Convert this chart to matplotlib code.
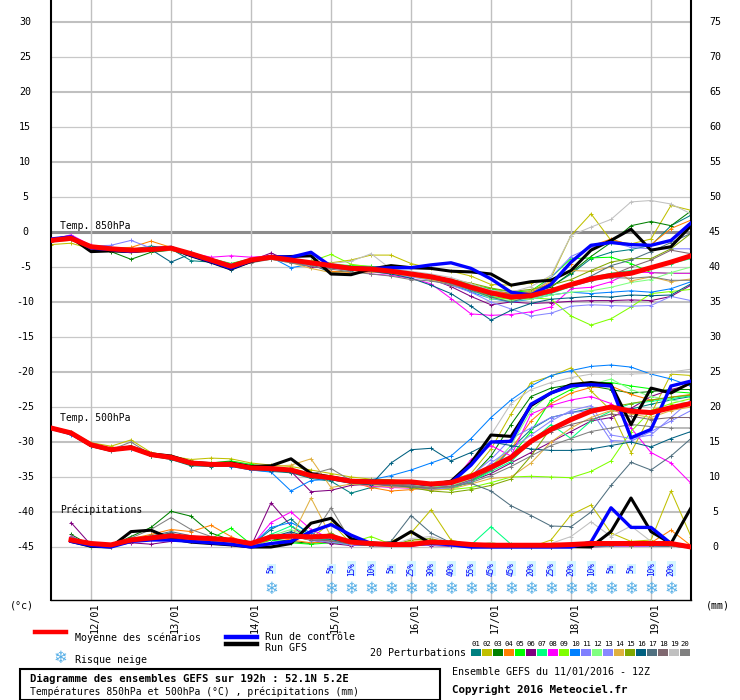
import matplotlib
matplotlib.use('Agg')
import matplotlib.pyplot as plt
from matplotlib.lines import Line2D
from matplotlib.patches import Rectangle

plt.rcParams['font.family'] = ['DejaVu Sans Mono']

# ---- data (6-hourly steps from 11/01 12Z, 33 steps) ----
day_labels = ['12/01', '13/01', '14/01', '15/01', '16/01', '17/01', '18/01', '19/01']
day_steps = [2, 6, 10, 14, 18, 22, 26, 30]

member_colors = ['#008080', '#c0c000', '#008000', '#ff8000', '#00ff00', '#800080', '#00ff80',
                 '#ff00ff', '#80ff00', '#0080ff', '#8080ff', '#80ff80', '#8888ff', '#e0b040',
                 '#80a800', '#006080', '#507080', '#806870', '#c0c0c0', '#808080']

t850_mean = [-1.2, -0.9, -2.1, -2.4, -2.6, -2.5, -2.3, -3.1, -4.0, -4.9, -4.0, -3.6, -4.0, -4.4, -4.8, -5.2, -5.3,
             -5.6, -6.0, -6.4, -7.0, -7.9, -8.7, -9.3, -9.1, -8.4, -7.5, -6.7, -6.2, -5.9, -5.1, -4.3, -3.4]
t850_ctrl = [-1.0, -0.7, -2.3, -2.5, -2.8, -2.4, -2.2, -3.3, -4.2, -5.2, -4.1, -3.5, -3.6, -2.9, -4.9, -5.1, -5.2,
             -5.1, -5.1, -4.7, -4.4, -5.2, -6.7, -8.6, -9.0, -7.5, -4.3, -1.9, -1.5, -1.8, -1.9, -1.2, 1.3]
t850_gfs = [-1.3, -0.8, -2.8, -2.7, -2.8, -2.6, -2.3, -3.4, -4.3, -5.3, -4.2, -3.6, -3.5, -3.4, -6.0, -6.1, -5.3,
            -4.8, -5.1, -5.2, -5.6, -5.7, -6.0, -7.6, -7.1, -6.9, -5.5, -2.6, -1.2, 0.4, -2.6, -2.1, 0.9]
t850_members = [
    [-1.0, -0.5, -2.0, -2.2, -2.5, -2.0, -2.4, -4.1, -4.3, -5.0, -4.2, -3.8, -4.2, -4.6, -5.8, -5.5, -5.0, -5.4, -6.0, -6.5, -7.6, -8.5, -9.0, -8.7, -8.9, -7.8, -6.0, -3.8, -2.9, -2.5, -1.9, 0.9, 2.4],
    [-1.8, -1.6, -2.4, -2.6, -2.9, -2.7, -2.5, -3.2, -3.9, -4.6, -3.9, -3.8, -4.1, -4.3, -4.4, -4.0, -3.3, -3.3, -4.5, -5.2, -5.6, -6.3, -7.5, -7.6, -7.3, -6.5, -0.5, 2.6, -1.2, -1.7, -1.0, 3.8, 3.1],
    [-1.0, -0.8, -2.2, -2.8, -3.9, -2.9, -2.6, -3.4, -4.3, -5.0, -4.1, -3.7, -4.1, -4.5, -4.9, -5.1, -5.2, -5.5, -5.9, -6.3, -6.8, -7.6, -8.2, -8.8, -8.5, -7.9, -5.8, -3.5, -1.5, 0.9, 1.5, 0.9, 3.0],
    [-1.1, -0.8, -2.0, -2.3, -2.2, -1.3, -2.2, -3.0, -3.9, -4.8, -4.0, -3.6, -3.9, -4.2, -5.6, -5.8, -5.6, -5.5, -5.9, -6.2, -6.8, -7.5, -8.4, -8.8, -8.6, -7.2, -4.5, -2.0, -1.0, -1.9, -1.8, 0.5, 1.7],
    [-1.0, -0.6, -2.0, -2.3, -2.5, -2.3, -2.1, -3.0, -3.8, -4.5, -3.8, -3.6, -3.9, -4.3, -4.6, -4.8, -4.9, -5.3, -5.7, -6.3, -6.9, -7.5, -8.1, -8.6, -8.4, -6.5, -3.8, -3.7, -3.6, -4.5, -5.8, -5.9, -5.9],
    [-1.3, -1.0, -2.2, -2.5, -2.7, -2.6, -2.4, -3.2, -4.1, -5.0, -4.1, -3.0, -4.2, -5.0, -5.2, -5.4, -5.5, -5.8, -6.2, -6.7, -7.8, -9.2, -10.4, -10.0, -10.2, -10.1, -9.9, -9.8, -9.8, -9.7, -9.8, -9.2, -7.6],
    [-1.1, -0.8, -2.1, -2.3, -2.5, -2.4, -2.3, -3.0, -3.9, -4.8, -3.9, -3.6, -4.0, -4.5, -4.8, -5.3, -5.5, -5.8, -6.3, -6.8, -7.4, -8.3, -9.2, -9.6, -9.4, -8.8, -7.8, -6.5, -5.9, -5.5, -5.2, -4.5, -3.8],
    [-1.1, -0.4, -1.9, -2.2, -2.5, -2.4, -2.3, -3.0, -3.6, -3.4, -3.6, -3.4, -3.9, -4.3, -4.7, -5.0, -6.0, -6.2, -6.6, -7.4, -9.5, -11.7, -11.9, -11.8, -11.4, -10.7, -8.1, -7.9, -7.1, -5.7, -5.8, -5.9, -5.9],
    [-1.0, -0.7, -2.0, -2.2, -2.4, -2.3, -2.2, -2.9, -3.9, -4.7, -3.9, -3.5, -3.8, -4.2, -3.2, -4.6, -5.0, -5.3, -5.8, -6.4, -7.1, -8.2, -9.3, -9.6, -9.4, -9.6, -12.0, -13.3, -12.4, -10.7, -8.8, -8.5, -8.2],
    [-1.2, -0.9, -2.1, -2.2, -2.4, -2.5, -2.4, -2.9, -3.8, -4.8, -4.0, -3.6, -5.1, -4.6, -5.0, -5.2, -5.3, -5.7, -6.1, -6.7, -7.4, -8.6, -9.5, -10.0, -9.6, -9.0, -8.6, -8.8, -8.6, -8.4, -8.6, -8.1, -7.1],
    [-1.2, -0.6, -2.0, -1.9, -1.2, -2.3, -2.2, -3.0, -3.8, -4.6, -4.0, -3.7, -4.0, -4.3, -4.6, -5.0, -5.1, -5.4, -5.8, -6.3, -6.8, -7.7, -8.5, -9.2, -9.0, -6.5, -3.5, -2.2, -1.4, -2.2, -2.4, -2.4, -2.4],
    [-1.3, -1.0, -2.3, -2.6, -2.8, -2.7, -2.5, -3.3, -4.2, -5.1, -4.2, -3.8, -4.2, -4.6, -5.0, -5.4, -5.5, -5.8, -6.2, -6.5, -7.2, -8.3, -9.5, -9.8, -9.6, -9.0, -8.6, -8.4, -7.9, -7.2, -6.8, -5.8, -5.0],
    [-1.2, -0.8, -2.1, -2.4, -2.6, -2.6, -2.5, -3.3, -4.4, -5.3, -4.3, -3.8, -4.2, -4.6, -5.0, -5.4, -5.7, -6.0, -6.4, -6.9, -7.6, -8.6, -10.0, -11.0, -12.0, -11.6, -10.6, -10.4, -10.5, -10.6, -10.5, -9.2, -9.8],
    [-1.4, -1.2, -2.3, -2.5, -2.8, -2.7, -2.6, -3.3, -4.2, -5.0, -4.3, -3.9, -4.4, -5.2, -5.8, -5.9, -5.7, -5.9, -6.3, -6.8, -7.5, -8.2, -8.8, -9.0, -8.4, -7.0, -5.5, -5.6, -5.0, -7.0, -6.4, -7.1, -6.7],
    [-1.1, -0.8, -2.2, -2.6, -2.8, -2.6, -2.3, -3.1, -4.1, -4.9, -4.1, -3.7, -4.0, -4.4, -4.9, -5.2, -5.3, -5.5, -5.8, -6.2, -6.8, -7.3, -8.0, -8.5, -8.2, -7.6, -6.8, -5.5, -4.3, -3.8, -3.8, -2.4, -0.2],
    [-1.1, -0.9, -2.1, -2.4, -2.6, -2.5, -4.3, -3.1, -4.2, -5.4, -4.1, -3.7, -4.2, -4.5, -4.9, -5.3, -5.6, -6.0, -6.6, -7.6, -8.8, -10.6, -12.6, -11.2, -10.2, -9.6, -9.4, -9.2, -9.3, -9.0, -9.1, -9.0, -7.4],
    [-1.2, -0.9, -2.2, -2.4, -2.6, -2.5, -2.3, -3.2, -4.1, -5.0, -4.1, -3.7, -4.1, -4.6, -5.0, -5.3, -5.4, -5.6, -6.1, -6.6, -7.3, -8.3, -9.3, -10.0, -9.2, -8.3, -7.5, -6.3, -4.8, -4.0, -2.8, -1.5, -0.2],
    [-1.3, -1.0, -2.3, -2.5, -2.7, -2.6, -2.4, -3.2, -4.2, -5.1, -4.2, -3.8, -4.3, -4.7, -5.1, -5.4, -5.5, -5.7, -6.1, -6.4, -7.1, -7.9, -8.8, -9.3, -9.0, -8.5, -7.8, -7.0, -6.2, -5.0, -4.0, -2.6, -3.1],
    [-1.2, -0.9, -2.1, -2.3, -2.5, -2.3, -2.2, -3.0, -3.9, -4.8, -4.0, -3.6, -3.9, -4.3, -4.5, -4.2, -3.1, -5.3, -5.6, -6.0, -6.5, -7.4, -8.3, -8.6, -7.8, -6.2, -0.5, 0.7, 1.8, 4.3, 4.5, 4.0, 2.6],
    [-1.3, -1.0, -2.2, -2.5, -2.7, -2.6, -2.3, -3.2, -4.3, -5.2, -4.4, -3.9, -4.4, -4.9, -5.3, -5.7, -6.0, -6.3, -6.8, -7.0, -7.5, -8.1, -8.6, -8.9, -8.7, -8.2, -7.4, -6.9, -6.5, -6.6, -6.4, -6.9, -6.9],
]

t500_mean = [-28.0, -28.7, -30.4, -31.1, -30.8, -31.8, -32.2, -33.0, -33.2, -33.2, -33.7, -33.8, -34.0, -34.8, -35.1, -35.6, -35.7,
             -35.7, -35.7, -36.0, -35.8, -34.9, -33.6, -32.2, -29.9, -28.2, -26.8, -25.6, -25.0, -25.6, -25.8, -25.1, -24.5]
t500_ctrl = [-28.0, -28.7, -30.4, -31.1, -30.8, -31.8, -32.2, -33.0, -33.2, -33.2, -33.7, -33.8, -34.0, -34.8, -35.1, -35.6, -35.7,
             -35.7, -35.8, -36.1, -35.8, -33.3, -30.0, -29.9, -24.6, -23.0, -22.0, -21.8, -22.0, -29.4, -28.2, -22.0, -21.3]
t500_gfs = [-28.0, -28.8, -30.5, -31.2, -30.7, -31.7, -32.0, -32.9, -33.1, -33.0, -33.5, -33.4, -32.4, -34.5, -35.0, -35.5, -35.6,
            -35.6, -35.8, -36.1, -35.6, -33.0, -29.0, -29.2, -24.8, -23.0, -21.8, -21.5, -21.8, -27.5, -22.3, -23.0, -21.5]
t500_members = [
    [-28.0, -28.8, -30.5, -31.3, -30.9, -32.0, -32.5, -33.4, -33.5, -33.4, -34.0, -34.2, -34.4, -35.2, -35.6, -37.3, -36.5, -36.2, -36.0, -36.3, -36.4, -35.5, -34.0, -31.0, -28.2, -26.5, -25.8, -25.2, -25.0, -25.3, -24.6, -24.0, -23.5],
    [-27.8, -28.5, -30.1, -30.6, -29.7, -31.5, -32.0, -32.5, -32.3, -32.4, -33.0, -33.3, -33.5, -34.0, -34.5, -35.0, -35.3, -35.4, -35.6, -35.9, -35.5, -34.5, -31.0, -26.0, -21.5, -20.6, -19.4, -22.7, -25.5, -31.5, -26.0, -20.3, -20.5],
    [-28.1, -28.8, -30.5, -31.2, -31.0, -32.0, -32.4, -33.3, -33.4, -33.3, -33.8, -34.0, -34.3, -35.0, -35.4, -35.8, -36.0, -35.9, -36.0, -36.3, -36.0, -35.0, -32.0, -27.5, -23.5, -22.3, -21.8, -22.0, -22.5, -23.0, -22.8, -22.5, -22.5],
    [-28.0, -28.7, -30.3, -31.0, -30.7, -31.6, -32.0, -32.8, -33.0, -33.1, -33.6, -33.9, -34.2, -34.6, -35.0, -35.7, -36.5, -37.0, -36.8, -36.5, -36.0, -35.0, -33.5, -31.0, -27.0, -24.5, -23.0, -22.2, -22.0, -23.2, -24.0, -23.6, -23.2],
    [-28.0, -28.6, -30.3, -31.0, -30.6, -31.7, -32.1, -32.9, -33.0, -32.7, -33.2, -33.6, -34.0, -34.8, -35.2, -35.5, -35.8, -36.2, -36.5, -36.8, -36.7, -35.6, -34.0, -32.0, -28.5, -24.0, -22.5, -21.5, -21.5, -22.0, -22.4, -22.8, -23.0],
    [-28.0, -28.7, -30.4, -31.2, -30.9, -31.8, -32.3, -33.1, -33.3, -33.3, -33.8, -34.0, -34.2, -37.1, -36.9, -36.2, -36.0, -36.3, -36.5, -36.8, -36.6, -35.6, -34.5, -33.0, -31.5, -30.0, -28.5, -27.0, -26.5, -25.2, -23.5, -22.5, -21.8],
    [-28.0, -28.7, -30.4, -31.1, -30.9, -31.9, -32.3, -33.1, -33.3, -33.3, -33.8, -33.9, -34.2, -34.9, -35.3, -35.8, -35.9, -36.0, -36.3, -36.6, -36.6, -35.7, -34.2, -32.8, -30.0, -27.5, -29.5, -27.0, -25.6, -24.5, -24.2, -23.8, -23.4],
    [-28.0, -28.7, -30.4, -31.1, -30.9, -31.9, -32.3, -33.0, -33.2, -33.1, -33.6, -33.7, -33.9, -34.6, -35.1, -35.9, -36.3, -36.5, -36.6, -36.8, -36.0, -32.5, -30.5, -32.0, -26.0, -24.8, -24.0, -23.5, -24.5, -28.0, -31.5, -33.0, -35.9],
    [-28.0, -28.7, -30.4, -31.1, -30.8, -31.8, -32.2, -33.0, -33.1, -33.0, -33.5, -33.6, -33.8, -34.5, -34.9, -35.4, -35.5, -35.7, -36.2, -36.7, -36.8, -36.5, -35.8, -35.0, -34.9, -35.0, -35.1, -34.2, -32.7, -28.5, -25.5, -24.5, -23.8],
    [-28.2, -29.0, -30.6, -31.2, -31.0, -31.9, -32.3, -33.1, -33.3, -33.5, -34.0, -34.3, -37.0, -35.5, -35.3, -35.6, -35.4, -34.8, -34.0, -33.0, -32.0, -29.5, -26.5, -24.0, -22.0, -20.5, -19.8, -19.2, -19.0, -19.3, -20.3, -21.0, -22.0],
    [-28.0, -28.7, -30.4, -31.1, -30.8, -31.9, -32.3, -33.1, -33.3, -33.3, -33.8, -34.0, -34.2, -34.9, -35.3, -35.8, -36.0, -36.1, -36.2, -36.5, -36.0, -34.8, -32.5, -29.5, -28.0, -26.5, -25.8, -25.5, -29.8, -29.9, -28.5, -27.0, -25.5],
    [-28.0, -28.7, -30.4, -31.1, -30.8, -31.8, -32.2, -33.0, -33.3, -33.2, -33.7, -33.8, -34.1, -34.8, -35.2, -35.7, -35.8, -36.0, -36.1, -36.4, -36.3, -35.2, -33.5, -30.5, -25.5, -23.0, -22.0, -21.8, -21.0, -22.5, -23.5, -24.0, -24.5],
    [-28.0, -28.7, -30.4, -31.1, -30.9, -31.9, -32.3, -33.1, -33.3, -33.3, -33.8, -33.9, -34.2, -34.9, -35.3, -35.8, -36.0, -36.2, -36.6, -36.8, -36.5, -35.5, -33.0, -31.0, -29.0, -27.0, -25.5, -24.8, -29.0, -29.5, -29.0, -26.5, -24.0],
    [-28.0, -28.6, -30.3, -31.0, -30.7, -31.7, -32.1, -32.9, -33.1, -33.3, -33.6, -33.5, -33.3, -32.4, -36.5, -36.0, -36.2, -36.4, -36.5, -36.9, -36.7, -36.0, -35.2, -35.0, -33.0, -30.0, -28.0, -26.5, -25.5, -26.0, -26.5, -25.5, -25.0],
    [-28.0, -28.7, -30.4, -31.1, -30.9, -31.9, -32.3, -33.1, -33.3, -33.3, -33.7, -33.9, -34.1, -34.8, -35.2, -35.7, -35.9, -36.1, -36.5, -37.0, -37.2, -36.8, -36.2, -35.3, -32.0, -28.0, -26.5, -25.5, -25.0, -24.5, -24.0, -23.6, -23.3],
    [-28.0, -28.7, -30.4, -31.1, -30.9, -31.9, -32.3, -33.1, -33.4, -33.4, -33.9, -34.1, -34.3, -35.0, -35.4, -35.9, -36.1, -33.0, -31.1, -30.9, -32.7, -31.5, -30.0, -30.5, -31.0, -31.2, -31.2, -31.0, -30.5, -30.0, -30.7, -29.5, -28.5],
    [-28.0, -28.7, -30.4, -31.1, -30.9, -31.9, -32.3, -33.1, -33.3, -33.3, -33.8, -34.0, -34.2, -34.9, -35.3, -35.8, -36.0, -36.2, -36.4, -36.6, -36.3, -35.9, -37.0, -39.1, -40.5, -42.0, -42.1, -40.0, -36.2, -32.9, -34.0, -32.0, -29.5],
    [-28.0, -28.7, -30.4, -31.1, -30.9, -31.9, -32.3, -33.1, -33.3, -33.3, -33.8, -33.9, -34.1, -34.8, -35.2, -35.7, -35.9, -36.1, -36.3, -36.6, -36.4, -35.4, -34.0, -32.5, -30.0, -28.5, -27.5, -26.8, -26.0, -26.3, -26.8, -26.5, -26.5],
    [-28.0, -28.6, -30.3, -31.0, -30.8, -31.7, -32.1, -32.9, -33.1, -33.1, -33.6, -33.7, -33.9, -34.6, -35.0, -35.5, -35.6, -35.8, -36.0, -36.3, -35.5, -33.0, -29.0, -24.5, -22.5, -21.5, -20.8, -20.3, -20.3, -20.3, -20.2, -20.0, -19.6],
    [-28.0, -28.7, -30.4, -31.1, -30.0, -31.8, -32.2, -33.0, -33.2, -33.2, -33.7, -33.8, -34.0, -34.6, -33.8, -35.5, -35.7, -35.9, -36.2, -36.5, -36.4, -35.8, -34.8, -33.5, -32.0, -30.5, -29.5, -28.5, -28.0, -27.5, -27.8, -28.0, -28.0],
]

# precipitation (mm per 6h), steps 1..32
precip_mean = [1.0, 0.5, 0.3, 1.0, 1.3, 1.6, 1.35, 1.2, 1.0, 0.5, 1.45, 1.55, 1.45, 1.55, 0.7, 0.5,
               0.35, 0.35, 0.7, 0.6, 0.35, 0.25, 0.25, 0.25, 0.25, 0.35, 0.5, 0.5, 0.5, 0.5, 0.5, 0.0]
precip_ctrl = [0.8, 0.2, 0.0, 0.8, 1.0, 1.0, 0.8, 0.6, 0.4, 0.0, 0.5, 0.8, 2.2, 3.2, 1.7, 0.5,
               0.3, 0.3, 0.6, 0.3, 0.0, 0.0, 0.0, 0.0, 0.0, 0.0, 0.7, 5.6, 2.8, 2.8, 0.5, 0.0]
precip_gfs = [0.8, 0.1, 0.0, 2.2, 2.4, 1.2, 0.7, 0.5, 0.3, 0.0, 0.0, 0.5, 3.4, 4.1, 1.2, 0.5,
              0.5, 2.2, 0.5, 0.7, 0.05, 0.05, 0.05, 0.05, 0.05, 0.05, 0.0, 2.2, 7.0, 2.2, 0.5, 5.6]
precip_members = [
    [1.5, 0.2, 0.1, 1.0, 1.5, 2.0, 1.0, 0.8, 0.5, 0.2, 2.5, 4.0, 1.5, 0.8, 0.3, 0.2, 0.2, 0.3, 0.5, 0.2, 0.1, 0.3, 0.1, 0.0, 0.1, 0.2, 0.3, 0.2, 0.5, 0.3, 0.2, 0.0],
    [1.2, 0.1, 0.0, 0.8, 1.2, 1.5, 1.0, 0.6, 0.4, 0.0, 1.0, 1.5, 1.2, 3.5, 0.5, 0.4, 0.8, 2.0, 5.3, 1.0, 0.3, 0.2, 0.1, 0.0, 1.0, 4.6, 6.0, 2.0, 0.8, 1.0, 8.0, 1.5],
    [1.8, 0.2, 0.1, 1.5, 2.8, 5.1, 4.4, 2.0, 1.0, 0.3, 1.2, 0.8, 0.5, 1.0, 0.5, 0.3, 0.2, 0.4, 0.6, 0.3, 0.1, 0.0, 0.0, 0.0, 0.0, 0.1, 0.2, 0.3, 0.4, 0.3, 0.2, 0.0],
    [1.3, 0.1, 0.0, 1.2, 1.8, 2.5, 2.2, 3.1, 1.5, 0.2, 1.5, 1.0, 0.6, 0.8, 0.4, 0.2, 0.1, 0.8, 0.5, 0.2, 0.0, 0.1, 0.0, 0.0, 0.0, 0.0, 0.2, 0.5, 0.4, 0.6, 2.4, 0.2],
    [1.0, 0.0, 0.0, 0.8, 1.2, 1.8, 1.5, 1.2, 2.7, 0.4, 1.0, 0.6, 0.4, 0.6, 0.3, 0.2, 0.5, 0.3, 0.6, 0.4, 0.2, 0.3, 0.0, 0.0, 0.0, 0.0, 0.1, 0.3, 0.2, 0.2, 0.1, 0.0],
    [3.5, 0.3, 0.1, 0.6, 0.4, 0.8, 0.9, 0.5, 0.3, 0.1, 6.3, 3.0, 1.0, 0.5, 0.2, 0.3, 0.1, 0.3, 0.2, 0.1, 0.0, 0.0, 0.0, 0.0, 0.0, 0.0, 0.0, 0.1, 0.2, 0.1, 0.1, 0.0],
    [1.4, 0.2, 0.1, 1.0, 1.6, 1.4, 1.2, 1.0, 0.8, 0.2, 1.8, 3.0, 1.5, 0.8, 0.3, 0.8, 0.4, 0.5, 0.8, 0.5, 0.3, 2.9, 0.4, 0.1, 0.0, 0.1, 0.2, 0.2, 0.3, 0.2, 0.2, 0.0],
    [1.6, 0.1, 0.0, 0.7, 1.0, 1.2, 1.4, 0.9, 0.6, 0.1, 3.5, 5.0, 2.5, 1.2, 0.3, 0.2, 0.2, 0.1, 0.4, 0.2, 0.1, 0.0, 0.0, 0.0, 0.0, 0.0, 0.1, 0.2, 0.1, 0.1, 0.1, 0.0],
    [1.1, 0.1, 0.0, 0.8, 1.1, 1.3, 1.1, 0.8, 0.6, 0.1, 1.2, 1.8, 1.0, 1.5, 0.6, 1.5, 0.4, 0.3, 0.7, 0.4, 0.2, 0.6, 0.2, 0.0, 0.0, 0.0, 0.1, 0.2, 0.3, 0.2, 0.1, 0.0],
    [1.2, 0.2, 0.1, 0.9, 1.2, 1.5, 1.1, 0.8, 0.6, 0.2, 2.8, 3.5, 2.0, 1.0, 0.5, 0.3, 0.2, 0.2, 0.4, 0.2, 0.1, 0.1, 0.0, 0.0, 0.0, 0.0, 0.1, 0.3, 0.2, 0.3, 0.4, 0.0],
    [1.3, 0.1, 0.0, 0.9, 1.3, 1.6, 1.2, 0.9, 0.5, 0.1, 1.4, 2.0, 1.1, 0.9, 0.4, 0.2, 0.3, 0.2, 0.5, 0.3, 0.1, 0.0, 0.0, 0.0, 0.0, 0.0, 0.2, 0.4, 0.3, 0.2, 0.1, 0.0],
    [1.2, 0.1, 0.0, 1.0, 1.4, 1.8, 1.4, 1.0, 0.7, 0.2, 1.6, 2.5, 1.3, 1.0, 0.4, 0.3, 0.2, 0.3, 0.5, 0.3, 0.1, 0.1, 0.0, 0.0, 0.0, 0.0, 0.1, 0.2, 0.2, 0.2, 0.1, 0.0],
    [1.5, 0.2, 0.0, 0.8, 1.0, 1.4, 1.0, 0.7, 0.4, 0.1, 1.3, 1.7, 0.9, 0.7, 0.3, 0.2, 0.1, 0.2, 0.3, 0.2, 0.0, 0.0, 0.0, 0.0, 0.0, 0.0, 0.1, 0.1, 0.2, 0.1, 0.1, 0.0],
    [1.4, 0.1, 0.0, 1.1, 1.5, 1.7, 1.3, 1.0, 0.6, 0.3, 1.5, 1.2, 7.0, 1.5, 0.6, 0.3, 0.5, 0.8, 1.0, 0.4, 0.2, 0.1, 0.0, 0.0, 0.0, 0.2, 0.3, 0.5, 0.4, 0.3, 0.3, 0.0],
    [1.1, 0.1, 0.0, 0.9, 1.2, 1.5, 1.2, 0.9, 0.6, 0.2, 1.2, 1.5, 1.0, 2.0, 0.5, 0.3, 0.2, 1.0, 1.2, 0.5, 0.2, 0.1, 0.0, 0.0, 0.0, 0.1, 0.2, 0.3, 0.2, 0.3, 0.2, 0.0],
    [1.3, 0.1, 0.0, 1.0, 1.4, 1.6, 1.3, 1.0, 0.6, 0.2, 1.4, 2.2, 1.2, 1.1, 0.4, 0.2, 0.2, 0.4, 0.6, 0.3, 0.1, 0.0, 0.0, 0.0, 0.0, 0.0, 0.1, 0.2, 0.3, 0.2, 0.1, 0.0],
    [1.4, 0.2, 0.1, 1.1, 1.6, 2.2, 1.6, 1.2, 0.7, 0.3, 1.5, 1.8, 1.4, 1.8, 0.6, 0.4, 0.8, 4.5, 2.0, 0.6, 0.3, 0.2, 0.1, 0.0, 0.0, 0.1, 0.2, 0.4, 0.5, 0.3, 0.2, 0.0],
    [1.2, 0.1, 0.0, 0.9, 1.3, 1.5, 1.2, 0.9, 0.5, 0.2, 1.3, 1.6, 1.0, 0.9, 0.4, 0.2, 0.2, 0.3, 0.5, 0.3, 0.1, 0.0, 0.0, 0.0, 0.0, 0.0, 0.1, 0.2, 0.2, 0.2, 0.1, 0.0],
    [1.3, 0.2, 0.0, 1.0, 1.4, 1.6, 1.3, 1.0, 0.6, 0.2, 1.2, 1.5, 1.1, 1.4, 0.5, 0.3, 0.3, 1.2, 1.5, 0.6, 0.3, 0.6, 0.2, 0.0, 0.5, 1.5, 3.6, 1.5, 3.0, 0.8, 0.5, 0.0],
    [1.5, 0.2, 0.1, 1.3, 2.5, 4.2, 2.5, 1.5, 0.8, 0.3, 1.6, 1.4, 1.2, 5.6, 0.8, 0.4, 0.3, 0.5, 0.8, 0.4, 0.2, 0.1, 0.0, 0.0, 0.0, 0.1, 0.2, 0.3, 0.4, 0.3, 0.2, 0.0],
]

snow_steps = [11, 14, 15, 16, 17, 18, 19, 20, 21, 22, 23, 24, 25, 26, 27, 28, 29, 30, 31]
snow_pct = [5, 5, 15, 10, 5, 25, 30, 40, 55, 45, 45, 20, 25, 20, 10, 5, 5, 10, 20]

left_ticks = list(range(30, -50, -5))
right_labels = [str(v + 45) for v in left_ticks]
precip_base = -45  # 0 mm sits on -45 of the temperature scale


def px(x, y):
    return x / 740, 1 - y / 700


fig = plt.figure(figsize=(7.4, 7.0), dpi=100)
ax = fig.add_axes([51 / 740, 100 / 700, 640 / 740, 600 / 700])
ax.set_xlim(0, 32)
ax.set_ylim((232 - 600) / 7, 232 / 7)
ax.set_xticks([])
ax.set_yticks([])
ax.spines['top'].set_visible(False)
ax.spines['left'].set_linewidth(1.5)
ax.spines['right'].set_linewidth(1.5)
ax.spines['bottom'].set_linewidth(1.0)

# grid
for v in left_ticks:
    if v == 0:
        ax.axhline(v, color='#8c8c8c', lw=2.2, zorder=1)
    elif v % 10 == 0:
        ax.axhline(v, color='#c0c0c0', lw=1.5, zorder=1)
    else:
        ax.axhline(v, color='#c8c8c8', lw=0.9, zorder=1)
for d in day_steps:
    ax.axvline(d, color='#c0c0c0', lw=1.0, zorder=1)

steps = list(range(33))
psteps = list(range(1, 33))

# perturbations
for k, col in enumerate(member_colors):
    kw = dict(color=col, lw=0.75, marker='+', ms=3, mew=0.7, zorder=2)
    ax.plot(steps, t850_members[k], **kw)
    ax.plot(steps, t500_members[k], **kw)
    ax.plot(psteps, [precip_base + p for p in precip_members[k]], **kw)

# GFS run, control run, mean
ax.plot(steps, t850_gfs, color='black', lw=2.2, zorder=3)
ax.plot(steps, t500_gfs, color='black', lw=2.2, zorder=3)
ax.plot(psteps, [precip_base + p for p in precip_gfs], color='black', lw=2.2, zorder=3)
ax.plot(steps, t850_ctrl, color='#0000ff', lw=2.4, zorder=4)
ax.plot(steps, t500_ctrl, color='#0000ff', lw=2.4, zorder=4)
ax.plot(psteps, [precip_base + p for p in precip_ctrl], color='#0000ff', lw=2.4, zorder=4)
ax.plot(steps, t850_mean, color='#ff0000', lw=3.6, zorder=5)
ax.plot(steps, t500_mean, color='#ff0000', lw=3.6, zorder=5)
ax.plot(psteps, [precip_base + p for p in precip_mean], color='#ff0000', lw=3.6, zorder=5)

# section titles
ax.text(0.45, 0.15, 'Temp. 850hPa', fontsize=7, va='bottom', ha='left', zorder=6)
ax.text(0.45, -26.6, 'Temp. 500hPa', fontsize=7, va='center', ha='left', zorder=6)
ax.text(0.45, -39.7, 'Précipitations', fontsize=7, va='center', ha='left', zorder=6)

# snow risk
for st, pc in zip(snow_steps, snow_pct):
    ax.text(st, -51.0, '❄', family=['DejaVu Sans'], fontsize=12, color='#55aee6',
            ha='center', va='center', zorder=6)
    ax.text(st + 0.02, -48.1, f'{pc}%', fontsize=5.5, color='#0000ff', rotation=90,
            ha='center', va='center', zorder=6,
            bbox=dict(facecolor='#d6f6ff', edgecolor='none', pad=0.3))

# axis labels
for v, rl in zip(left_ticks, right_labels):
    y = 232 - v * 7
    fig.text(*px(25, y), str(v), fontsize=7.2, ha='center', va='center')
    fig.text(*px(715, y), rl, fontsize=7.2, ha='center', va='center')
fig.text(*px(22, 606), '(°c)', fontsize=7.2, ha='center', va='center')
fig.text(*px(718, 606), '(mm)', fontsize=7.2, ha='center', va='center')
for d, lab in zip(day_steps, day_labels):
    fig.text(*px(51 + 20 * d + 4, 602), lab, fontsize=7.4, rotation=90, ha='center', va='top')


# legend
def bar(x0, x1, y, color, lw):
    fig.add_artist(Line2D([x0 / 740, x1 / 740], [1 - y / 700, 1 - y / 700], color=color, lw=lw))


bar(35, 66, 632, '#ff0000', 3.2)
fig.text(*px(75, 638), 'Moyenne des scénarios', fontsize=7.2, va='center')
bar(226, 257, 637, '#0000ff', 3.2)
bar(226, 257, 644, 'black', 3.2)
fig.text(*px(265, 637), 'Run de contrôle', fontsize=7.2, va='center')
fig.text(*px(265, 648), 'Run GFS', fontsize=7.2, va='center')
fig.text(*px(60, 658), '❄', family=['DejaVu Sans'], fontsize=12, color='#55aee6', ha='center', va='center')
fig.text(*px(75, 660), 'Risque neige', fontsize=7.2, va='center')
fig.text(*px(370, 653), '20 Perturbations', fontsize=7.2, va='center')
for k, col in enumerate(member_colors):
    x0 = 471 + 11 * k
    fig.add_artist(Rectangle(px(x0, 656), 10 / 740, 7 / 700, facecolor=col, edgecolor='none'))
    fig.text(*px(x0 + 5, 644), f'{k + 1:02d}', fontsize=5.2, ha='center', va='center')

fig.add_artist(Rectangle(px(20, 700), 420 / 740, 31 / 700, facecolor='none', edgecolor='black', lw=1.5))
fig.text(*px(30, 679), 'Diagramme des ensembles GEFS sur 192h : 52.1N 5.2E',
         fontsize=7.6, fontweight='bold', va='center')
fig.text(*px(30, 692), 'Températures 850hPa et 500hPa (°C) , précipitations (mm)', fontsize=7.0, va='center')
fig.text(*px(452, 672), 'Ensemble GEFS du 11/01/2016 - 12Z', fontsize=7.2, va='center')
fig.text(*px(452, 690), 'Copyright 2016 Meteociel.fr', fontsize=7.8, fontweight='bold', va='center')

fig.savefig('out.png', dpi=100)
